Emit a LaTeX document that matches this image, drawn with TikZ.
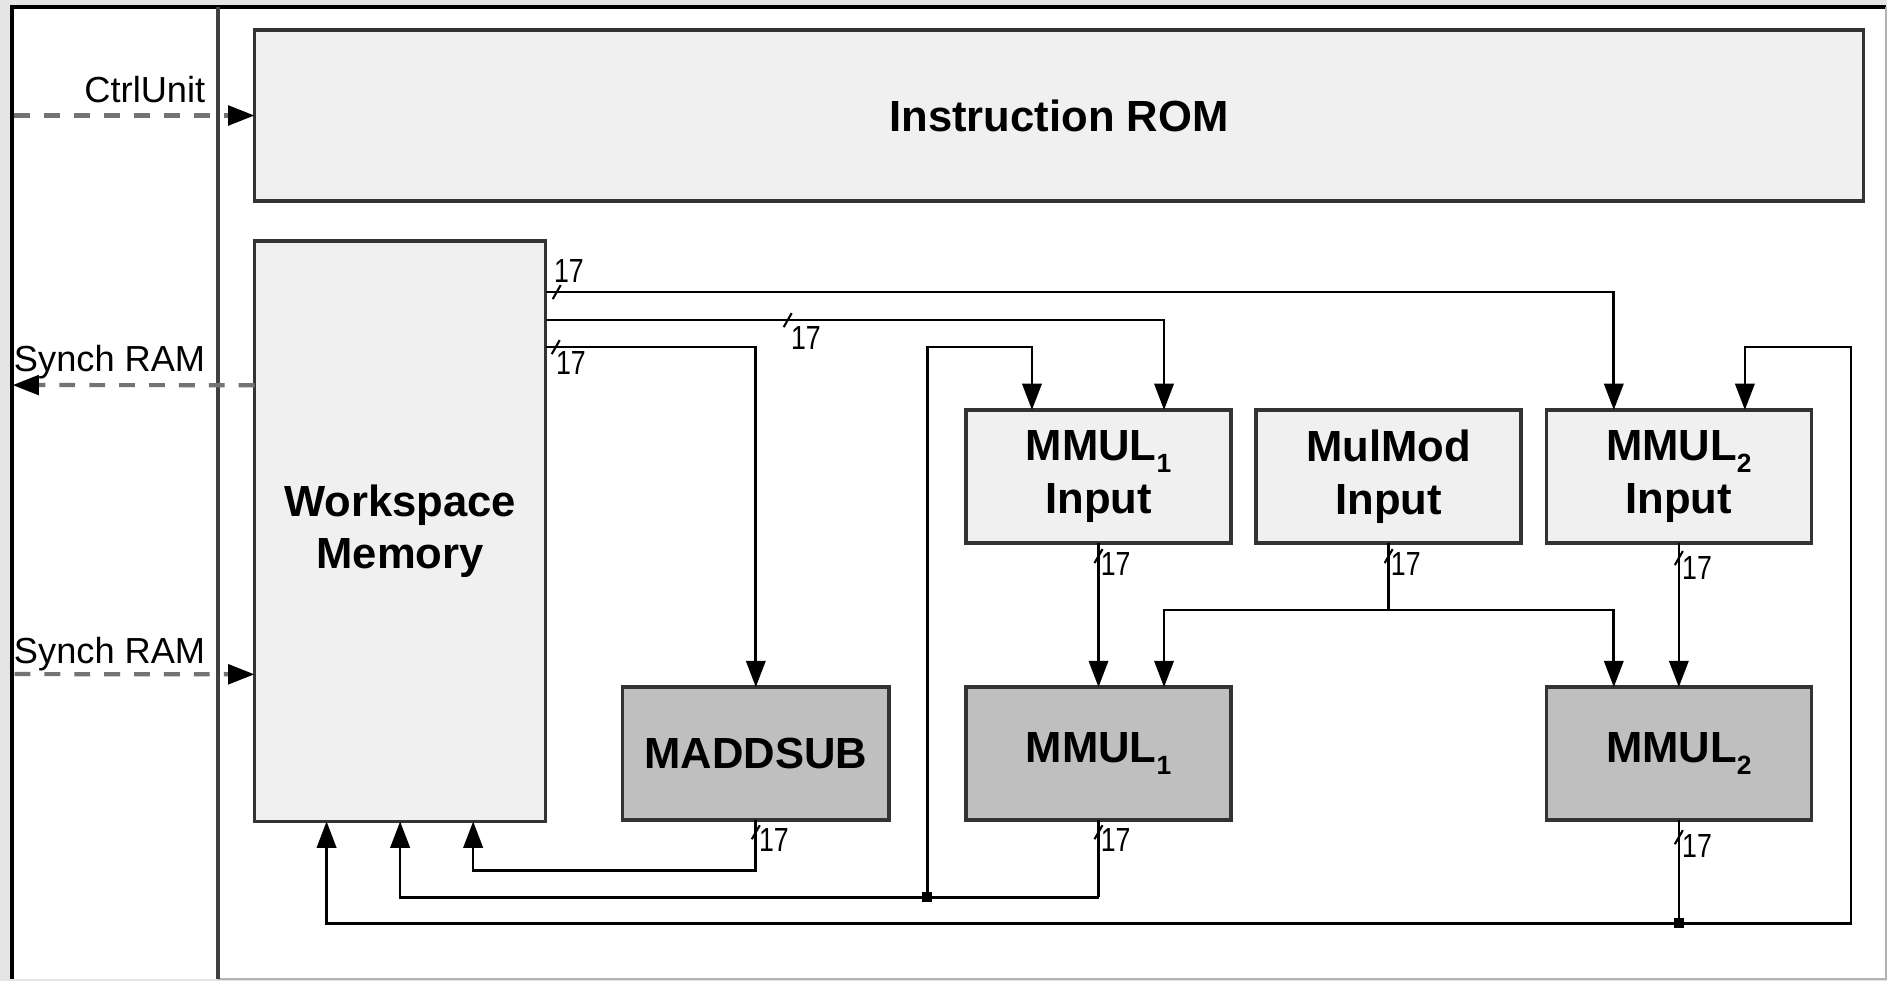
\documentclass[tikz,border=0pt]{standalone}
\usepackage{fontspec}
\setmainfont{Liberation Sans}
\usetikzlibrary{positioning, calc, arrows.meta}

\newcommand{\idx}[1]{\raisebox{-0.5ex}{\fontsize{7.5}{8}\selectfont #1}}
\newcommand{\buswidth}{\scalebox{0.8}[1]{17}}

\begin{document}
\begin{tikzpicture}[x=0.01cm, y=-0.01cm, line width=0.75pt,
    block/.style={rectangle, draw=black!80, line width=1pt, fill=black!6,
      minimum width=2.65cm, minimum height=1.33cm, inner sep=0pt, outer sep=0pt,
      align=center, font=\fontsize{12.4}{15}\selectfont\bfseries},
    unit/.style={block, fill=black!25},
    sig/.style={draw=black!55, dash pattern=on 4.5pt off 4pt, line width=1.2pt,
      -{Triangle[length=7.5pt, width=5.5pt, black]}},
    lbl/.style={font=\fontsize{10.3}{12}\selectfont, inner sep=0pt, anchor=base east},
    bw/.style={font=\fontsize{9.5}{10}\selectfont, inner sep=0pt},
    dot/.style={rectangle, fill=black, inner sep=0pt, minimum size=0.1cm},
    pics/slash/.style={code={\draw[-, line width=0.6pt] (-4,7) -- (4,-7);}},
    >={Triangle[length=7.5pt, width=5.5pt]}]

  \useasboundingbox (0,0) rectangle (1887,981);
  % frame
  \fill[black!10] (0,0) rectangle (1887,981);
  \fill[white] (12,7) rectangle (1886,979);
  \draw[black, line width=1pt] (12,979) -- (12,7) -- (1886,7);
  \draw[black!30] (218,979) -- (1886,979) -- (1886,7);
  \draw[black!75, line width=1pt] (218,7) -- (218,979);

  % blocks
  \node[block, minimum width=16.08cm, minimum height=1.71cm] (rom) at (1059,115.5) {Instruction ROM};
  \node[block, minimum width=2.91cm, minimum height=5.8cm, below right=0.4cm and 0cm of rom.south west] (ws) {Workspace\\Memory};
  \node[block] (mmi1) at (1098.5,476.5) {MMUL\idx{1}\\Input};
  \node[block, right=0.25cm of mmi1] (mmm) {MulMod\\Input};
  \node[block, right=0.25cm of mmm] (mmi2) {MMUL\idx{2}\\Input};
  \node[unit, below=1.44cm of mmi1] (mm1) {MMUL\idx{1}};
  \node[unit, below=1.44cm of mmi2] (mm2) {MMUL\idx{2}};
  \node[unit, minimum width=2.66cm, left=0.77cm of mm1] (madd) {MADDSUB};

  % outside signals
  \coordinate (ctrlin) at ([xshift=-2.4cm]rom.west);
  \coordinate (ramout) at ([shift={(-242,144)}]ws.north west);
  \coordinate (ramin) at ([shift={(-240,433)}]ws.north west);
  \draw[sig] (ctrlin) -- (rom.west);
  \draw[sig] ([yshift=-1.44cm]ws.north west) -- (ramout);
  \draw[sig] (ramin) -- ([yshift=-4.33cm]ws.north west);
  \node[lbl] (lblctrl) at ([shift={(-48,-13.5)}]rom.west) {CtrlUnit};
  \node[lbl] (lblout) at ([shift={(-48,130)}]ws.north west) {Synch RAM};
  \node[lbl] (lblin) at ([shift={(-48,422)}]ws.north west) {Synch RAM};

  % buses out of the workspace
  \draw[->] ([yshift=-0.51cm]ws.north east) -- ++(11,0) pic{slash}
    node[bw, anchor=south west, shift={(-4,-8)}] {\buswidth} -| ([xshift=-0.65cm]mmi2.north);
  \draw[->] ([yshift=-0.79cm]ws.north east) -- ++(242,0) pic{slash}
    node[bw, anchor=north west, shift={(2,5)}] {\buswidth} -| ([xshift=0.655cm]mmi1.north);
  \draw[->] ([yshift=-1.06cm]ws.north east) coordinate (bus3) -- ++(10,0) pic{slash}
    node[bw, anchor=north west, shift={(-1,3)}] {\buswidth} -| (madd.north);

  % inputs to the multipliers
  \draw[->] (mmi1.south) -- ++(0,13) pic{slash}
    node[bw, anchor=north west, shift={(1,-5)}] {\buswidth} -- (mm1.north);
  \draw[->] (mmi2.south) -- ++(0,15) pic{slash}
    node[bw, anchor=north west, shift={(2,-3)}] {\buswidth} -- (mm2.north);
  \draw (mmm.south) -- ++(0,13) pic{slash}
    node[bw, anchor=north west, shift={(1,-5)}] {\buswidth} -- ++(0,54) coordinate (mmsplit);
  \draw[->] (mmsplit) -| ([xshift=0.655cm]mm1.north);
  \draw[->] (mmsplit) -| ([xshift=-0.65cm]mm2.north);

  % results back to the workspace
  \draw (mm1.south) -- ++(0,12) pic{slash}
    node[bw, anchor=north west, shift={(1,-5)}] {\buswidth} -- ++(0,65) coordinate (fb1);
  \draw[->] (fb1) -| (ws.south);
  \coordinate (gap) at ($(madd.east)!0.5!(mm1.west)$);
  \coordinate (j1) at (gap |- fb1);
  \draw[->] (j1) -- (j1 |- bus3) -| ([xshift=-0.665cm]mmi1.north);
  \node[dot] (j1dot) at (j1) {};

  \draw[->] (madd.south) -- ++(0,12) pic{slash}
    node[bw, anchor=north west, shift={(2,-5)}] {\buswidth} -- ++(0,38) coordinate (fb3)
    -| ([xshift=0.73cm]ws.south);

  \draw (mm2.south) -- ++(0,17) pic{slash}
    node[bw, anchor=north west, shift={(2,-4)}] {\buswidth} -- ++(0,86) coordinate (fb2);
  \draw[->] (fb2) -| ([xshift=-0.735cm]ws.south);
  \draw[->] (fb2) -- ++(172,0) coordinate (rc) -- (rc |- bus3) -| ([xshift=0.66cm]mmi2.north);
  \node[dot] (j2dot) at (fb2) {};
\end{tikzpicture}
\end{document}
